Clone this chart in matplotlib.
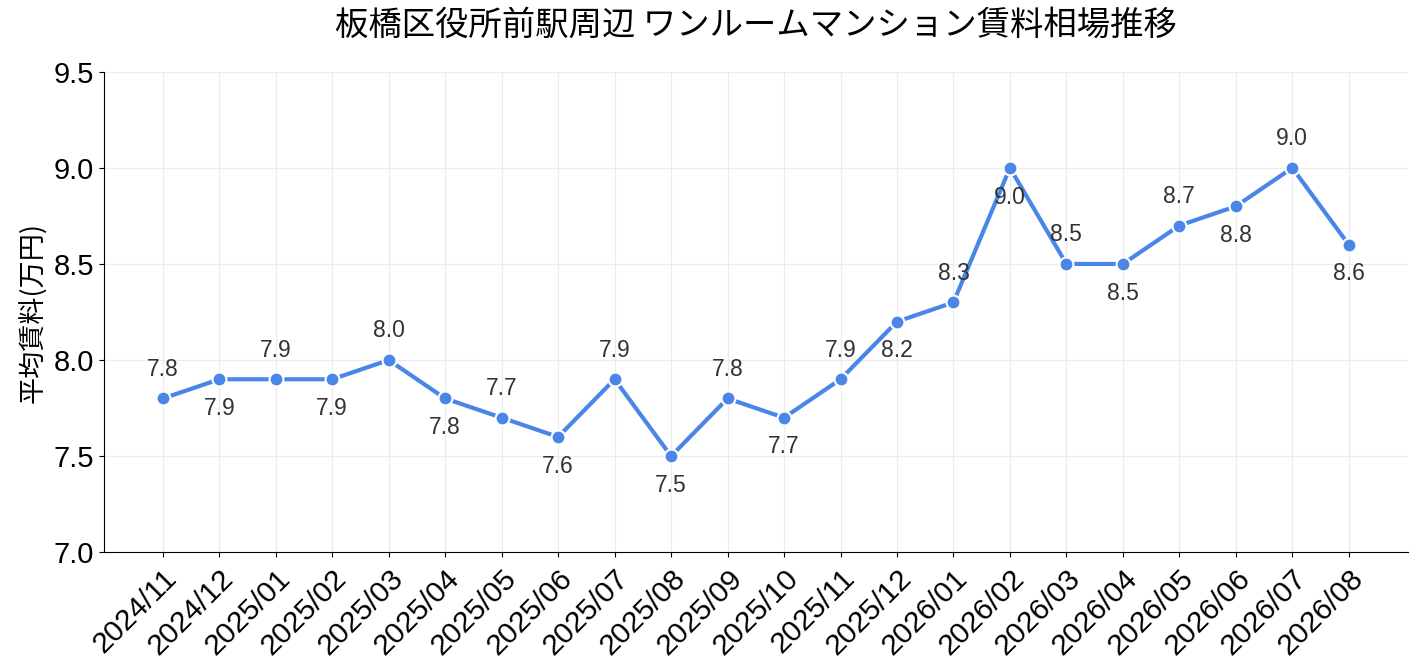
import matplotlib
matplotlib.use("Agg")
import matplotlib.pyplot as plt

plt.rcParams['font.family'] = ['Noto Sans CJK JP', 'DejaVu Sans']

months = ['2024/11', '2024/12', '2025/01', '2025/02', '2025/03', '2025/04',
          '2025/05', '2025/06', '2025/07', '2025/08', '2025/09', '2025/10',
          '2025/11', '2025/12', '2026/01', '2026/02', '2026/03', '2026/04',
          '2026/05', '2026/06', '2026/07', '2026/08']
rent = [7.8, 7.9, 7.9, 7.9, 8.0, 7.8, 7.7, 7.6, 7.9, 7.5, 7.8,
        7.7, 7.9, 8.2, 8.3, 9.0, 8.5, 8.5, 8.7, 8.8, 9.0, 8.6]
yticks = [7.0, 7.5, 8.0, 8.5, 9.0, 9.5]

color = '#4a86e8'
latin = 'Liberation Sans'

fig, ax = plt.subplots(figsize=(14.18, 6.71), dpi=100)
x = list(range(len(months)))
ax.plot(x, rent, color=color, linewidth=3, marker='o', markersize=10,
        markerfacecolor=color, markeredgecolor='white', markeredgewidth=1.5,
        zorder=3)

# labels alternate above / below the points
for i, v in enumerate(rent):
    dy = 21 if i % 2 == 0 else -21
    ax.annotate(f'{v:.1f}', (i, v), xytext=(0, dy), textcoords='offset points',
                ha='center', va='center', fontsize=16.5, color='#333333',
                family=latin)

ax.set_ylim(7.0, 9.5)
ax.set_yticks(yticks)
ax.set_yticklabels([f'{t:.1f}' for t in yticks], fontsize=21, family=latin)
ax.set_xticks(x)
ax.set_xticklabels(months, rotation=45, ha='right', rotation_mode='anchor',
                   fontsize=21.5, family=latin)
ax.tick_params(axis='x', pad=5)
ax.set_ylabel('平均賃料(万円)', fontsize=19.5, labelpad=4)
ax.set_title('板橋区役所前駅周辺 ワンルームマンション賃料相場推移', fontsize=24, pad=27)

ax.grid(True, color='#ebebeb', linewidth=0.8)
ax.set_axisbelow(True)
ax.spines['top'].set_visible(False)
ax.spines['right'].set_visible(False)

fig.subplots_adjust(left=0.073, right=0.993, top=0.893, bottom=0.177)
fig.savefig('out.png', dpi=100)
